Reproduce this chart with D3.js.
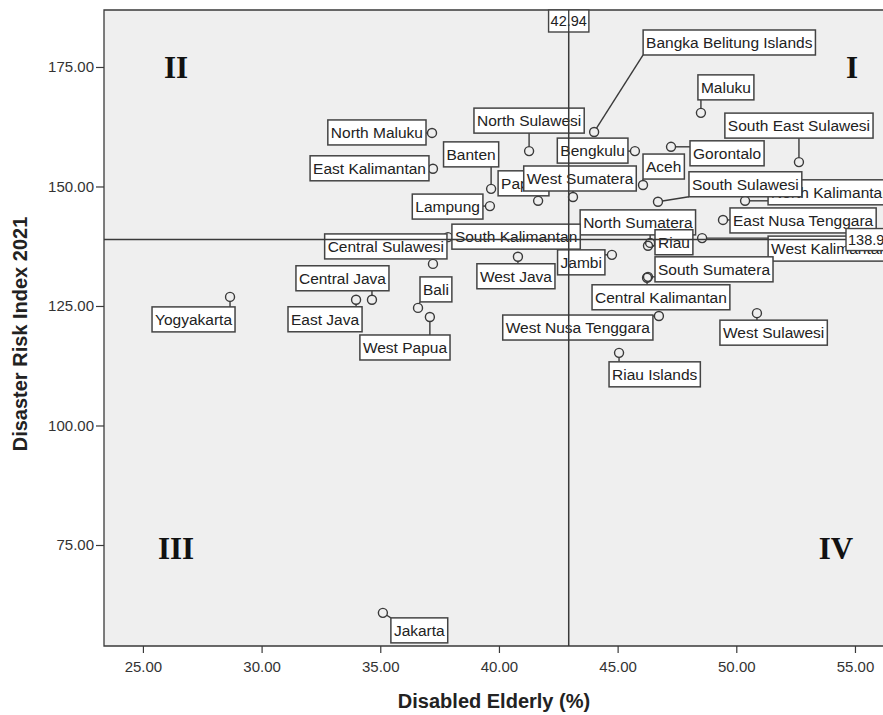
<!DOCTYPE html>
<html><head><meta charset="utf-8">
<script src="https://cdn.jsdelivr.net/npm/d3@7"></script>
<style>body{margin:0;background:#fff}</style>
</head><body><svg id="chart" width="883" height="715"></svg>
<script>
// ---------- data ----------
const provinces = ["Bangka Belitung Islands","Maluku","North Maluku","North Sulawesi","South East Sulawesi",
  "East Kalimantan","Banten","Bengkulu","Gorontalo","Aceh","Papua","West Sumatera","South Sulawesi",
  "North Kalimantan","Lampung","East Nusa Tenggara","North Sumatera","South Kalimantan","Central Sulawesi",
  "Riau","West Kalimantan","Jambi","West Java","South Sumatera","Central Java","Central Kalimantan",
  "Yogyakarta","East Java","Bali","West Papua","West Nusa Tenggara","West Sulawesi","Riau Islands","Jakarta"];
const disabledElderly = [44.01,48.51,37.18,41.27,52.64,37.22,39.67,45.73,47.25,46.07,41.65,43.12,46.70,
  50.37,39.62,49.44,46.37,37.85,37.22,46.28,48.56,44.76,40.80,46.28,34.65,46.24,28.67,33.98,36.59,37.09,
  46.74,50.87,45.06,35.11];
const disasterRisk = [161.4,165.4,161.2,157.4,155.1,153.7,149.5,157.4,158.3,150.3,147.0,147.8,146.8,
  147.0,145.9,143.0,138.2,139.4,133.8,137.6,139.2,135.7,135.3,131.1,126.3,130.9,126.9,126.3,124.6,122.7,
  122.9,123.5,115.2,60.8];
const xTicks = [25,30,35,40,45,50,55];
const yTicks = [75,100,125,150,175];
const meanX = 42.94, meanY = 138.9;
const meanXLabel = "42.94", meanYLabel = "138.9";
const quadrantNames = ["I","II","III","IV"];
const xTitle = "Disabled Elderly (%)";
const yTitle = "Disaster Risk Index 2021";

// ---------- label layout (box offset from point in px: [align, dx, dy]) ----------
const labelLayout = {
  "Bangka Belitung Islands":["l",49,-102], "Maluku":["l",-3,-38], "North Maluku":["r",-6,-13],
  "North Sulawesi":["c",0,-43], "South East Sulawesi":["c",0,-49], "East Kalimantan":["r",-4,-13],
  "Banten":["c",-20,-47], "Bengkulu":["r",-7,-13], "Gorontalo":["l",19,-6], "Aceh":["l",0,-31],
  "Papua":["l",-40,-30], "West Sumatera":["c",7,-31], "South Sulawesi":["l",31,-30],
  "North Kalimantan":["l",23,-21], "Lampung":["r",-7,-12], "East Nusa Tenggara":["l",7,-12],
  "North Sumatera":["l",-70,-33], "South Kalimantan":["l",4,-13], "Central Sulawesi":["r",14,-30],
  "Riau":["l",7,-16], "West Kalimantan":["l",66,-2], "Jambi":["r",-7,-5], "West Java":["c",-2,7],
  "South Sumatera":["l",7,-20], "Central Java":["r",17,-34], "Central Kalimantan":["l",-55,7],
  "Yogyakarta":["l",-78,10], "East Java":["r",6,7], "Bali":["l",2,-31], "West Papua":["l",-70,18],
  "West Nusa Tenggara":["r",-6,-1], "West Sulawesi":["l",-37,7], "Riau Islands":["l",-10,9],
  "Jakarta":["l",8,5]
};
const drawOrder = ["Bangka Belitung Islands","Maluku","North Maluku","North Sulawesi","South East Sulawesi",
  "East Kalimantan","Banten","Bengkulu","Gorontalo","Aceh","Papua","West Sumatera","North Kalimantan",
  "South Sulawesi","Lampung","East Nusa Tenggara","North Sumatera","Riau","South Kalimantan","Central Sulawesi",
  "West Kalimantan","Jambi","West Java","South Sumatera","Central Kalimantan","Central Java","Yogyakarta",
  "East Java","Bali","West Papua","West Nusa Tenggara","West Sulawesi","Riau Islands","Jakarta"];

// ---------- chart ----------
const svg = d3.select("#chart");
const L = 104, T = 10, R = 920, B = 646;
const x = d3.scaleLinear().domain([23.36, 57.74]).range([L, R]);
const y = d3.scaleLinear().domain([53.87, 186.92]).range([B, T]);
const ink = "#3a3a3a";
const sans = "Liberation Sans, Arial, sans-serif";

svg.append("rect").attr("x", L).attr("y", T).attr("width", R - L).attr("height", B - T)
  .attr("fill", "#efefef");
svg.append("path").attr("d", `M${R},${T}H${L}V${B}H${R}`).attr("fill", "none")
  .attr("stroke", ink).attr("stroke-width", 1.3);

const yAxis = svg.append("g").attr("transform", `translate(${L},0)`)
  .call(d3.axisLeft(y).tickValues(yTicks).tickFormat(d3.format(".2f")).tickSize(8).tickSizeOuter(0));
const xAxis = svg.append("g").attr("transform", `translate(0,${B})`)
  .call(d3.axisBottom(x).tickValues(xTicks).tickFormat(d3.format(".2f")).tickSize(7).tickSizeOuter(0));
[xAxis, yAxis].forEach(g => {
  g.select(".domain").remove();
  g.selectAll(".tick line").attr("stroke", ink).attr("stroke-width", 1.2);
  g.selectAll(".tick text").attr("fill", "#333").style("font-family", sans)
    .style("font-size", "15px");
});
xAxis.selectAll(".tick text").attr("y", 12).attr("dy", "0.9em");
yAxis.selectAll(".tick text").attr("x", -10);

svg.append("text").attr("x", 494).attr("y", 708).attr("text-anchor", "middle")
  .style("font-family", sans).style("font-weight", "bold")
  .style("font-size", "20px").attr("fill", "#222").text(xTitle);
svg.append("text").attr("transform", "translate(27,334) rotate(-90)").attr("text-anchor", "middle")
  .style("font-family", sans).style("font-weight", "bold")
  .style("font-size", "20px").attr("fill", "#222").text(yTitle);

// points
const pts = provinces.map((p, i) => ({name: p, px: x(disabledElderly[i]), py: y(disasterRisk[i])}));
const r = 4.5;
svg.append("g").selectAll("circle").data(pts).join("circle")
  .attr("cx", d => d.px).attr("cy", d => d.py).attr("r", r)
  .attr("fill", "none").attr("stroke", ink).attr("stroke-width", 1.4);

// labels
const fontL = "15.5px";
const lg = svg.append("g");
const byName = Object.fromEntries(pts.map(d => [d.name, d]));
const boxH = 25, pad = 3;
drawOrder.forEach(name => {
  const d = byName[name];
  const [al, dx, dy] = labelLayout[name];
  const g = lg.append("g");
  const t = g.append("text").style("font-family", sans)
    .style("font-size", fontL).attr("fill", "#222").text(name);
  const w = t.node().getComputedTextLength() + pad * 2;
  let x0 = d.px + dx;
  if (al === "r") x0 = d.px + dx - w;
  if (al === "c") x0 = d.px + dx - w / 2;
  const y0 = d.py + dy;
  const qx = Math.max(x0, Math.min(d.px, x0 + w)), qy = Math.max(y0, Math.min(d.py, y0 + boxH));
  const dist = Math.hypot(qx - d.px, qy - d.py);
  if (dist > r + 0.5) {
    g.insert("line", "text").attr("x1", d.px + (qx - d.px) * r / dist).attr("y1", d.py + (qy - d.py) * r / dist)
      .attr("x2", qx).attr("y2", qy).attr("stroke", ink).attr("stroke-width", 1.4);
  }
  g.insert("rect", "text").attr("x", x0).attr("y", y0).attr("width", w).attr("height", boxH)
    .attr("fill", "#fff").attr("stroke", "#444").attr("stroke-width", 1.5);
  t.attr("x", x0 + pad).attr("y", y0 + boxH / 2).attr("dy", "0.36em");
});

// reference lines
svg.append("line").attr("x1", x(meanX)).attr("x2", x(meanX)).attr("y1", T).attr("y2", B)
  .attr("stroke", ink).attr("stroke-width", 1.5);
svg.append("line").attr("x1", L).attr("x2", R).attr("y1", y(meanY)).attr("y2", y(meanY))
  .attr("stroke", ink).attr("stroke-width", 1.5);

function refLabel(txt, cx, cy, anchor) {
  const g = svg.append("g");
  const t = g.append("text").style("font-family", sans)
    .style("font-size", "14.5px").attr("fill", "#222").text(txt);
  const w = t.node().getComputedTextLength() + 4;
  const x0 = anchor === "c" ? cx - w / 2 : cx;
  g.insert("rect", "text").attr("x", x0).attr("y", cy - 11).attr("width", w).attr("height", 22)
    .attr("fill", "#fff").attr("stroke", "#444").attr("stroke-width", 1.4);
  t.attr("x", x0 + 2).attr("y", cy).attr("dy", "0.36em");
  return g;
}
refLabel(meanXLabel, x(meanX), T + 11, "c");
refLabel(meanYLabel, 846, y(meanY), "l");
svg.append("line").attr("x1", x(meanX)).attr("x2", x(meanX)).attr("y1", T).attr("y2", T + 22)
  .attr("stroke", ink).attr("stroke-width", 1.3);

// quadrant labels
const qPos = [[852, 67], [176, 67], [176, 548], [836, 548]];
quadrantNames.forEach((q, i) => {
  svg.append("text").attr("x", qPos[i][0]).attr("y", qPos[i][1]).attr("dy", "0.36em")
    .attr("text-anchor", "middle").style("font-family", "Liberation Serif, 'Times New Roman', serif")
    .style("font-weight", "bold").style("font-size", "31px").attr("fill", "#111").text(q);
});
</script></body></html>
